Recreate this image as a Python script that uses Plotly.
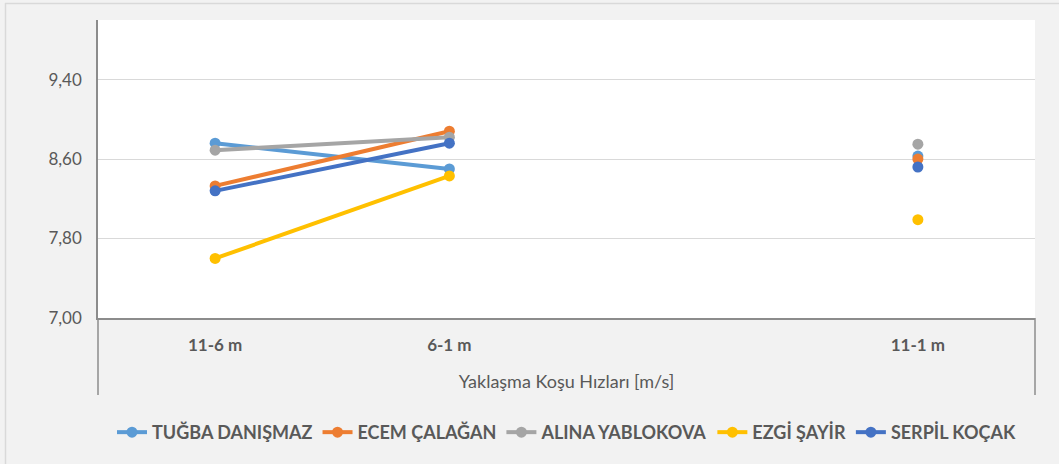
import plotly.graph_objects as go

categories = ["11-6 m", "6-1 m", "", "11-1 m"]
series_names = ["TUĞBA DANIŞMAZ", "ECEM ÇALAĞAN", "ALINA YABLOKOVA", "EZGİ ŞAYİR", "SERPİL KOÇAK"]
tugba = [8.76, 8.50, None, 8.63]
ecem = [8.33, 8.88, None, 8.60]
alina = [8.69, 8.82, None, 8.75]
ezgi = [7.60, 8.43, None, 7.99]
serpil = [8.28, 8.76, None, 8.52]
y_tickvals = [7.00, 7.80, 8.60, 9.40]
y_ticktext = ["7,00", "7,80", "8,60", "9,40"]
colors = ["#5B9BD5", "#ED7D31", "#A5A5A5", "#FFC000", "#4472C4"]

FONT = "Lato, Open Sans, sans-serif"

x_pos = list(range(len(categories)))
fig = go.Figure()
for name, vals, c in zip(series_names, [tugba, ecem, alina, ezgi, serpil], colors):
    fig.add_trace(go.Scatter(
        x=x_pos, y=vals, name="<b>%s</b>" % name, mode="lines+markers",
        line=dict(color=c, width=4), marker=dict(color=c, size=11),
        connectgaps=False,
    ))

W, H = 1059, 464
L, R, T, B = 98, 24, 20, 146
pw, ph = W - L - R, H - T - B

def px_x(x):
    return (x - L) / pw

def px_y(y):
    return (H - B - y) / ph

tick_idx = [i for i, c in enumerate(categories) if c]
fig.update_layout(
    width=W, height=H,
    margin=dict(l=L, r=R, t=T, b=B, autoexpand=False),
    paper_bgcolor="#F2F2F2", plot_bgcolor="#FFFFFF",
    font=dict(family=FONT, color="#595959", size=16),
    showlegend=True,
    legend=dict(orientation="h", x=0.5, xanchor="center", y=-0.322, yanchor="top",
                font=dict(size=18, color="#595959", family=FONT), traceorder="normal",
                bgcolor="rgba(0,0,0,0)"),
    xaxis=dict(range=[-0.5, 3.5], tickvals=tick_idx, ticktext=["<b>%s</b>" % categories[i] for i in tick_idx],
               showgrid=False, zeroline=False, showline=True, linecolor="#8C8C8C", linewidth=2,
               automargin=False,
               ticks="", ticklen=0, ticklabelstandoff=11, tickfont=dict(size=17, color="#595959"),
               title=dict(text="Yaklaşma Koşu Hızları [m/s]", font=dict(size=18, color="#595959"), standoff=21)),
    yaxis=dict(range=[7.0, 10.0], tickvals=y_tickvals, ticktext=y_ticktext,
               showgrid=True, gridcolor="#D9D9D9", gridwidth=1, zeroline=False, automargin=False,
               showline=True, linecolor="#8C8C8C", linewidth=1.5, ticks="", ticklabelstandoff=11,
               tickfont=dict(size=17, color="#595959")),
    shapes=[
        dict(type="line", xref="paper", yref="paper", x0=0, x1=0, y0=px_y(395), y1=0,
             line=dict(color="#8C8C8C", width=1.5)),
        dict(type="line", xref="paper", yref="paper", x0=1, x1=1, y0=px_y(395), y1=0,
             line=dict(color="#8C8C8C", width=1.5)),
        dict(type="line", xref="paper", yref="paper", x0=px_x(5), x1=px_x(W + 5), y0=px_y(3.5), y1=px_y(3.5),
             line=dict(color="#D9D9D9", width=1.5)),
        dict(type="line", xref="paper", yref="paper", x0=px_x(5.5), x1=px_x(5.5), y0=px_y(3), y1=px_y(H + 5),
             line=dict(color="#D9D9D9", width=1.5)),
    ],
)
fig.write_html("out.html", config={"displayModeBar": False},
               post_script="document.body.style.margin='0';document.body.style.background='#F2F2F2';")
